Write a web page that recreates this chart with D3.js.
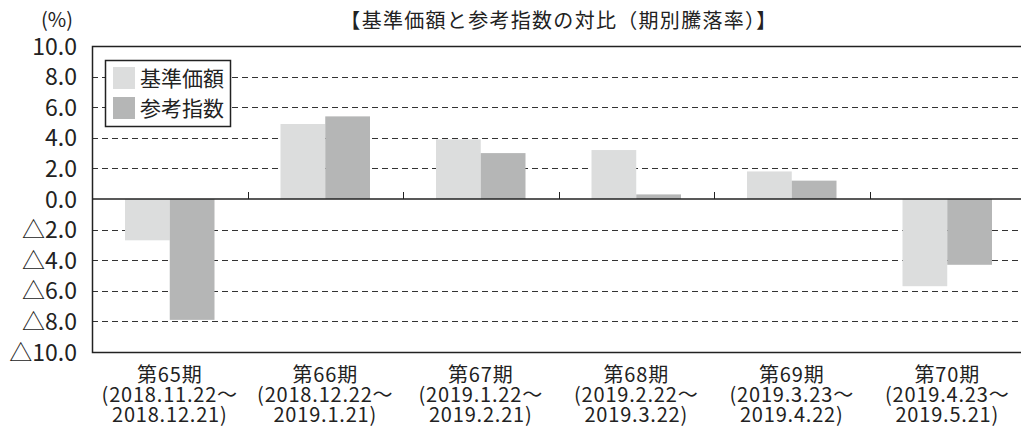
<!DOCTYPE html>
<html>
<head>
<meta charset="utf-8">
<script src="https://cdn.jsdelivr.net/npm/d3@7"></script>
<style>
  body { margin: 0; background: #fff; }
  svg { display: block; font-family: "Noto Sans CJK JP", "Noto Sans", sans-serif; }
</style>
</head>
<body>
<svg id="chart" width="1021" height="428"></svg>
<script>
const periods = ['第65期', '第66期', '第67期', '第68期', '第69期', '第70期'];
const periodRanges = [
    ['(2018.11.22～', '2018.12.21)'],
    ['(2018.12.22～', '2019.1.21)'],
    ['(2019.1.22～', '2019.2.21)'],
    ['(2019.2.22～', '2019.3.22)'],
    ['(2019.3.23～', '2019.4.22)'],
    ['(2019.4.23～', '2019.5.21)'],
];
const seriesNames = ['基準価額', '参考指数'];
const navValues = [-2.7, 4.9, 3.9, 3.2, 1.8, -5.7];
const indexValues = [-7.9, 5.4, 3.0, 0.3, 1.2, -4.3];
const yTicks = [10, 8, 6, 4, 2, 0, -2, -4, -6, -8, -10];
const colors = ['#dcdddd', '#b5b6b6'];

function translate(x, y) {
    return `translate(${x}, ${y})`;
}

function tickLabel(v) {
    return v < 0 ? '△' + Math.abs(v).toFixed(1) : v.toFixed(1);
}

const svg = d3.select('#chart');
const margin = { top: 46, left: 92, right: -4, bottom: 76 };
const width = 1021 - margin.left - margin.right;
const height = 428 - margin.top - margin.bottom;

const x = d3.scaleBand().domain(periods).range([0, width]);
const sub = d3.scaleBand().domain(seriesNames).range([33, x.bandwidth() - 33]);
const y = d3.scaleLinear().domain([-10, 10]).range([height, 0]);

const view = svg.append('g').attr('transform', translate(margin.left, margin.top));

// dashed gridlines
view.append('g').selectAll('line')
    .data(yTicks.filter(d => d !== 0 && Math.abs(d) !== 10))
    .enter().append('line')
    .attr('x1', 0).attr('x2', width)
    .attr('y1', d => Math.round(y(d)) + 0.5).attr('y2', d => Math.round(y(d)) + 0.5)
    .style('stroke', '#333')
    .style('stroke-width', 1)
    .style('stroke-dasharray', '6,4');

// bars
const data = periods.map((p, i) => ({ key: p, values: [
    { name: seriesNames[0], value: navValues[i] },
    { name: seriesNames[1], value: indexValues[i] },
]}));
view.append('g').selectAll('g').data(data).enter().append('g')
    .attr('transform', d => translate(x(d.key), 0))
    .selectAll('rect').data(d => d.values).enter().append('rect')
    .attr('x', d => sub(d.name))
    .attr('width', sub.bandwidth())
    .attr('y', d => y(Math.max(0, d.value)))
    .attr('height', d => Math.abs(y(d.value) - y(0)))
    .style('fill', (d, i) => colors[i]);

// zero line with category ticks
view.append('line')
    .attr('x1', 0).attr('x2', width)
    .attr('y1', y(0)).attr('y2', y(0))
    .style('stroke', '#222').style('stroke-width', 1.5);
view.append('g').selectAll('line')
    .data(periods.slice(1))
    .enter().append('line')
    .attr('x1', d => Math.round(x(d)) + 0.5).attr('x2', d => Math.round(x(d)) + 0.5)
    .attr('y1', y(0) - 7).attr('y2', y(0))
    .style('stroke', '#222').style('stroke-width', 1);

// frame
view.append('rect')
    .attr('x', 0.5).attr('y', 0.5)
    .attr('width', width).attr('height', height)
    .style('fill', 'none').style('stroke', '#222').style('stroke-width', 1.5);

// y axis labels
svg.append('g').selectAll('text').data(yTicks).enter().append('text')
    .attr('x', 77)
    .attr('y', d => margin.top + y(d) + 8.5)
    .style('text-anchor', 'end')
    .style('font-size', '23px')
    .style('fill', '#222')
    .text(tickLabel);

svg.append('text')
    .attr('x', 57).attr('y', 27)
    .style('text-anchor', 'middle')
    .style('font-size', '20px')
    .style('fill', '#222')
    .text('(%)');

// title
svg.append('text')
    .attr('x', 559).attr('y', 28)
    .style('text-anchor', 'middle')
    .style('font-size', '20px')
    .style('letter-spacing', '1.3px')
    .style('fill', '#222')
    .text('【基準価額と参考指数の対比（期別騰落率）】');

// category labels
const cats = svg.append('g').selectAll('text').data(periods).enter().append('text')
    .attr('transform', d => translate(margin.left + x(d) + x.bandwidth() / 2, 0))
    .style('text-anchor', 'middle')
    .style('font-size', '20px')
    .style('letter-spacing', '0.8px')
    .style('fill', '#222');
cats.append('tspan').attr('x', 0).attr('y', 382).text(d => d);
cats.append('tspan').attr('x', 0).attr('y', 402).text((d, i) => periodRanges[i][0]);
cats.append('tspan').attr('x', 0).attr('y', 422).text((d, i) => periodRanges[i][1]);

// legend
const legend = svg.append('g').attr('transform', translate(105, 60));
legend.append('rect')
    .attr('x', 0.5).attr('y', 0.5).attr('width', 125).attr('height', 66)
    .style('fill', '#fff').style('stroke', '#222').style('stroke-width', 1.5);
const items = legend.selectAll('g.item').data(seriesNames).enter().append('g')
    .attr('class', 'item')
    .attr('transform', (d, i) => translate(8, 7 + 30 * i));
items.append('rect')
    .attr('width', 22).attr('height', 22)
    .style('fill', (d, i) => colors[i]);
items.append('text')
    .attr('x', 27).attr('y', 19)
    .style('font-size', '21px')
    .style('fill', '#222')
    .text(d => d);
</script>
</body>
</html>
